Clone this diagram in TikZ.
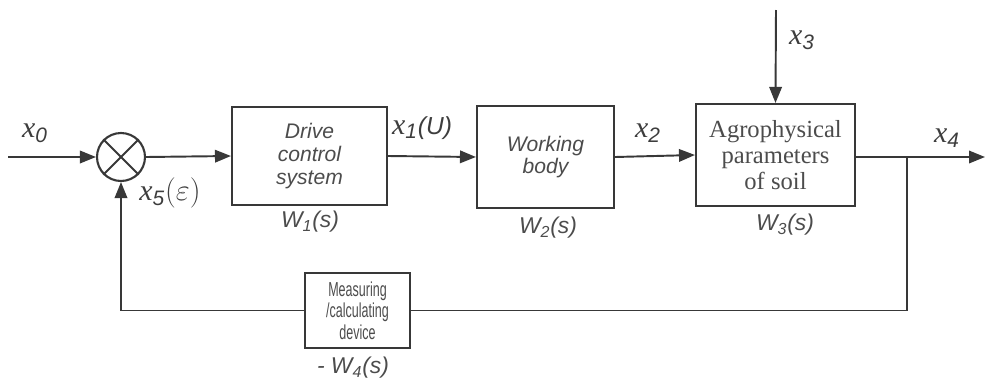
\documentclass[tikz,border=0pt]{standalone}
\usepackage{fontspec}
\setsansfont{Liberation Sans}
\newfontfamily\soilfont{Liberation Serif}
\newfontfamily\narrowsans[FakeStretch=0.62]{Liberation Sans}
\usetikzlibrary{arrows.meta}
\usepackage{xcolor}
\definecolor{linegray}{gray}{0.22}
\definecolor{txtgray}{gray}{0.3}

\newcommand{\wsub}[2]{\textsf{\itshape #1W\textsubscript{#2}(s)}}
\newcommand{\xsig}[1]{{\soilfont\itshape x}\textsubscript{\sffamily\itshape #1}}

\tikzset{
  blk/.style = {draw=linegray, line width=1.2pt, align=center, inner sep=2pt, text=txtgray},
  sig/.style = {line width=1.1pt, draw=linegray, -{Triangle[length=3.2mm,width=2.5mm]}},
  wire/.style = {line width=1.1pt, draw=linegray},
  lab/.style = {inner sep=0, text=txtgray},
  xlab/.style = {inner sep=0, text=txtgray!80!black, font=\fontsize{17}{19}\selectfont}
}

\begin{document}
\begin{tikzpicture}[x=0.02cm, y=-0.02cm]
\useasboundingbox (0,0) rectangle (985,386);

% forward path
\coordinate (in0) at (8,157);
\node[circle, draw=linegray, line width=1.2pt, inner sep=0, minimum size=0.96cm] (sum) at (121,157) {};
\draw[wire] (sum.135) -- (sum.-45);
\draw[wire] (sum.45) -- (sum.-135);

\node[blk, minimum width=3.1cm, minimum height=1.96cm, font=\sffamily\itshape\fontsize{12}{13}\selectfont] (b1) at (309.5,156) {Drive\\control\\system};
\node[blk, minimum width=2.74cm, minimum height=2.04cm, font=\sffamily\itshape\fontsize{12}{13}\selectfont] (b2) at (545.5,157) {Working\\body};
\node[blk, minimum width=3.18cm, minimum height=2.04cm, font=\soilfont\fontsize{14}{14.7}\selectfont] (b3) at (775.5,155) {Agrophysical\\parameters\\of soil};

\coordinate (x3top) at (776,10);
\coordinate (out) at (985,157);
\coordinate (br) at (907,157);

\draw[sig] (in0) -- (sum.west);
\draw[sig] (sum.east) -- (b1.west);
\draw[sig] (b1.east) -- (b2.west);
\draw[sig] (b2.east) -- (b3.west);
\draw[sig] (x3top) -- (b3.north);
\draw[sig] (b3.east |- out) -- (out);

% feedback
\node[blk, minimum width=2.1cm, minimum height=1.5cm, inner sep=1pt, font=\narrowsans\fontsize{11.5}{12.3}\selectfont] (b4) at (357.5,310.5) {Measuring\\/calculating\\device};
\draw[wire] (br) |- (b4.east);
\draw[sig] (b4.west) -| (sum.south);

% signal labels
\node[xlab] (lx0) at (35,133) {\xsig{0}};
\node[xlab] (lx1) at (422,128) {\xsig{1}\textsf{\itshape\fontsize{14}{16}\selectfont(U)}};
\node[xlab] (lx2) at (648,133) {\xsig{2}};
\node[xlab] (lx3) at (802,40) {\xsig{3}};
\node[xlab] (lx4) at (947,138) {\xsig{4}};
\node[xlab] (lx5) at (170,193) {\xsig{5}$(\varepsilon)$};

% transfer functions
\node[lab, font=\fontsize{13}{15}\selectfont] (w1) at (310,222) {\wsub{}{1}};
\node[lab, font=\fontsize{13}{15}\selectfont] (w2) at (548,228) {\wsub{}{2}};
\node[lab, font=\fontsize{13}{15}\selectfont] (w3) at (785,225) {\wsub{}{3}};
\node[lab, font=\fontsize{13}{15}\selectfont] (w4) at (353,368) {\wsub{- }{4}};

\end{tikzpicture}
\end{document}
